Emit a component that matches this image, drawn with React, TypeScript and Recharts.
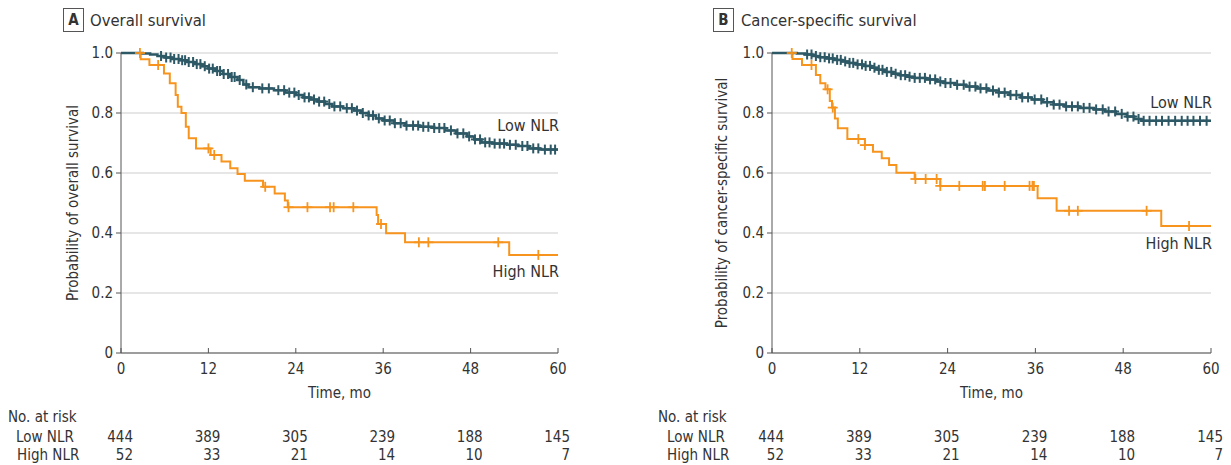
import React from 'react';
import { ComposedChart, Line, Scatter, XAxis, YAxis, CartesianGrid, ReferenceDot } from 'recharts';

// ---------- data ----------
const monthTicks = [0, 12, 24, 36, 48, 60];
const probTicks = [0, 0.2, 0.4, 0.6, 0.8, 1.0];
const lowRisk = [444, 389, 305, 239, 188, 145];
const highRisk = [52, 33, 21, 14, 10, 7];

// Overall survival, Low NLR (time in months, survival probability)
const lowOS: [number, number][] = [
  [0, 1.0], [3.0, 0.998], [4.0, 0.995], [5.0, 0.99], [6.0, 0.985], [7.0, 0.98], [8.0, 0.976],
  [9.0, 0.97], [10.0, 0.963], [11.0, 0.956], [12.0, 0.948], [13.0, 0.94], [14.0, 0.93],
  [15.0, 0.92], [16.0, 0.91], [16.8, 0.895], [17.5, 0.886], [19.0, 0.882], [21.0, 0.876],
  [22.5, 0.868], [24.0, 0.86], [25.0, 0.852], [26.0, 0.845], [27.0, 0.838], [28.0, 0.83],
  [29.0, 0.822], [30.5, 0.816], [32.0, 0.808], [33.0, 0.8], [34.0, 0.792], [35.0, 0.782],
  [36.0, 0.775], [37.5, 0.766], [39.0, 0.758], [41.0, 0.754], [43.0, 0.75], [44.5, 0.742],
  [46.0, 0.732], [47.5, 0.722], [48.5, 0.712], [49.5, 0.702], [51.0, 0.698], [53.0, 0.694],
  [54.5, 0.69], [56.0, 0.682], [57.5, 0.678], [60, 0.678],
];
const highOS: [number, number][] = [
  [0, 1.0], [2.7, 0.979], [3.9, 0.96], [5.9, 0.932], [6.7, 0.899], [7.5, 0.86], [7.8, 0.821],
  [8.3, 0.8], [8.9, 0.754], [9.3, 0.716], [10.3, 0.682], [12.3, 0.66], [13.8, 0.638],
  [15.0, 0.616], [16.0, 0.597], [17.0, 0.574], [19.5, 0.554], [21.1, 0.532], [22.5, 0.508],
  [22.9, 0.486], [35.1, 0.46], [35.3, 0.43], [36.4, 0.399], [39.0, 0.369], [53.3, 0.327],
  [60, 0.327],
];
const lowOSCensor = [
  5.5, 6.2, 6.8, 7.3, 7.9, 8.4, 8.8, 9.3, 9.9, 10.4, 10.9, 11.5, 12.1, 12.6, 13.2, 13.6, 14.1,
  14.7, 15.2, 15.6, 16.3, 17.2, 18.1, 19.4, 20.3, 21.6, 22.4, 23.1, 23.8, 24.4, 25.2, 25.8,
  26.5, 27.2, 27.9, 28.6, 29.3, 30.1, 31.0, 31.7, 32.4, 33.2, 34.0, 34.6, 35.4, 36.2, 36.9,
  37.6, 38.4, 39.2, 40.1, 40.8, 41.5, 42.2, 43.0, 43.7, 44.4, 45.3, 46.2, 47.0, 47.8, 48.6,
  49.3, 50.0, 50.6, 51.3, 52.0, 52.6, 53.4, 54.2, 55.1, 55.8, 56.6, 57.3, 58.2, 59.0, 59.6,
];
const highOSCensor = [2.6, 5.1, 12.0, 12.8, 19.8, 23.0, 25.6, 28.7, 29.2, 31.9, 35.7, 40.9, 42.2, 51.8, 57.3];

// Cancer-specific survival
const lowCSS: [number, number][] = [
  [0, 1.0], [3.4, 0.998], [4.5, 0.995], [5.5, 0.99], [6.5, 0.986], [7.5, 0.982], [8.5, 0.977],
  [9.5, 0.972], [10.5, 0.967], [11.5, 0.962], [12.5, 0.957], [13.5, 0.951], [14.5, 0.944],
  [15.5, 0.937], [16.5, 0.931], [17.5, 0.926], [18.5, 0.921], [19.5, 0.917], [21.0, 0.912],
  [22.5, 0.905], [23.5, 0.9], [25.0, 0.894], [26.5, 0.888], [28.0, 0.882], [29.5, 0.875],
  [31.0, 0.868], [32.5, 0.86], [34.0, 0.852], [35.5, 0.845], [37.0, 0.836], [38.5, 0.828],
  [40.0, 0.822], [42.0, 0.817], [44.0, 0.812], [45.5, 0.805], [47.0, 0.797], [48.5, 0.788],
  [49.5, 0.78], [50.5, 0.774], [60, 0.774],
];
const highCSS: [number, number][] = [
  [0, 1.0], [2.8, 0.98], [4.1, 0.96], [6.0, 0.927], [6.6, 0.899], [7.3, 0.879], [7.9, 0.84],
  [8.2, 0.818], [8.6, 0.782], [9.0, 0.749], [10.3, 0.713], [12.7, 0.693], [13.8, 0.671],
  [15.0, 0.649], [16.0, 0.627], [17.0, 0.601], [19.5, 0.58], [23.0, 0.557], [36.3, 0.516],
  [38.9, 0.474], [53.2, 0.423], [60, 0.423],
];
const lowCSSCensor = [
  4.8, 5.4, 6.0, 6.6, 7.2, 7.8, 8.3, 8.9, 9.4, 10.0, 10.6, 11.1, 11.7, 12.3, 12.8, 13.4, 14.0,
  14.6, 15.1, 15.7, 16.3, 16.9, 17.6, 18.2, 18.8, 19.5, 20.2, 20.9, 21.6, 22.3, 23.0, 23.7,
  24.4, 25.3, 26.2, 27.0, 27.8, 28.5, 29.3, 30.2, 31.0, 31.8, 32.6, 33.4, 34.2, 35.0, 35.9,
  36.8, 37.6, 38.5, 39.3, 40.2, 41.0, 41.8, 42.6, 43.4, 44.3, 45.2, 46.0, 46.9, 47.8, 48.6,
  49.4, 50.1, 50.8, 51.6, 52.5, 53.3, 54.2, 55.1, 56.0, 56.8, 57.6, 58.5, 59.4,
];
const highCSSCensor = [
  2.7, 5.4, 7.6, 8.3, 11.8, 12.7, 19.6, 21.0, 22.5, 23.0, 25.6, 28.8, 29.1, 31.8, 35.2, 35.6,
  35.8, 40.6, 41.8, 51.2, 57.0,
];

// ---------- style ----------
const FONT = "'Liberation Sans Narrow', 'DejaVu Sans Condensed', 'Roboto Condensed', 'Open Sans', sans-serif";
const TEXT = '#333333';
const TEAL = '#2d5865';
const ORANGE = '#f7941e';
const AXIS = '#555555';

const survAt = (steps: [number, number][], t: number) => {
  let s = steps[0][1];
  for (const [tt, ss] of steps) {
    if (tt <= t) s = ss;
    else break;
  }
  return s;
};
const toPoints = (steps: [number, number][]) => steps.map(([t, s]) => ({ t, s }));
const censorPoints = (steps: [number, number][], times: number[]) => times.map((t) => ({ t, s: survAt(steps, t) }));

const makeCross = (color: string, h: number, w: number, sw: number) => (p: any) => (
  <g>
    <line x1={p.cx} x2={p.cx} y1={p.cy - h} y2={p.cy + h} stroke={color} strokeWidth={sw} />
    <line x1={p.cx - w} x2={p.cx + w} y1={p.cy} y2={p.cy} stroke={color} strokeWidth={sw} />
  </g>
);

const XTick = (props: any) => {
  const { x, y, payload, index } = props;
  return (
    <g>
      <line x1={x} x2={x} y1={y - 5} y2={y} stroke={AXIS} strokeWidth={1} />
      <text x={x} y={y + 21} textAnchor="middle" fontSize={15} fill={TEXT} fontFamily={FONT}>
        {payload.value}
      </text>
      <text x={x + 12} y={y + 89} textAnchor="end" fontSize={15} fill={TEXT} fontFamily={FONT}>
        {lowRisk[index]}
      </text>
      <text x={x + 12} y={y + 107} textAnchor="end" fontSize={15} fill={TEXT} fontFamily={FONT}>
        {highRisk[index]}
      </text>
    </g>
  );
};

type PanelProps = {
  left: number;
  width: number;
  marginLeft: number;
  marginRight: number;
  low: [number, number][];
  high: [number, number][];
  lowCensor: number[];
  highCensor: number[];
  lowLabelY: number;
  highLabelY: number;
};

const Panel = (p: PanelProps) => (
  <div style={{ position: 'absolute', left: p.left, top: 0 }}>
    <ComposedChart
      width={p.width}
      height={465}
      margin={{ top: 53, right: p.marginRight, bottom: 72, left: p.marginLeft }}
    >
      <CartesianGrid vertical={false} stroke="#dedede" strokeWidth={1.5} />
      <XAxis
        type="number"
        dataKey="t"
        domain={[0, 60]}
        ticks={monthTicks}
        allowDataOverflow
        height={40}
        stroke={AXIS}
        tickLine={false}
        tickSize={0}
        tickMargin={0}
        tick={<XTick />}
        interval={0}
        label={{
          content: (lp: any) => (
            <text
              x={lp.viewBox.x + lp.viewBox.width / 2}
              y={lp.viewBox.y + 45}
              textAnchor="middle"
              fontSize={15}
              fill={TEXT}
              fontFamily={FONT}
            >
              Time, mo
            </text>
          ),
        }}
      />
      <YAxis
        type="number"
        dataKey="s"
        domain={[0, 1]}
        ticks={probTicks}
        interval={0}
        width={50}
        stroke={AXIS}
        tickSize={5}
        tickMargin={3}
        tick={{ fontSize: 15, fill: TEXT, fontFamily: FONT }}
        tickFormatter={(v: number) => (v === 0 ? '0' : v.toFixed(1))}
      />
      <Line
        data={toPoints(p.high)}
        dataKey="s"
        type="stepAfter"
        stroke={ORANGE}
        strokeWidth={2}
        dot={false}
        isAnimationActive={false}
      />
      <Scatter
        data={censorPoints(p.high, p.highCensor)}
        dataKey="s"
        shape={makeCross(ORANGE, 5, 5, 1.8)}
        isAnimationActive={false}
      />
      <Line
        data={toPoints(p.low)}
        dataKey="s"
        type="stepAfter"
        stroke={TEAL}
        strokeWidth={2.5}
        dot={false}
        isAnimationActive={false}
      />
      <Scatter
        data={censorPoints(p.low, p.lowCensor)}
        dataKey="s"
        shape={makeCross(TEAL, 5, 4, 2)}
        isAnimationActive={false}
      />
      <ReferenceDot
        x={60}
        y={p.lowLabelY}
        r={0}
        shape={(sp: any) => (
          <text x={sp.cx + 1} y={sp.cy} dy="0.35em" textAnchor="end" fontSize={16} fill={TEXT} fontFamily={FONT}>
            Low NLR
          </text>
        )}
      />
      <ReferenceDot
        x={60}
        y={p.highLabelY}
        r={0}
        shape={(sp: any) => (
          <text x={sp.cx + 1} y={sp.cy} dy="0.35em" textAnchor="end" fontSize={16} fill={TEXT} fontFamily={FONT}>
            High NLR
          </text>
        )}
      />
    </ComposedChart>
  </div>
);

const Overlay = () => (
  <svg
    width={1231}
    height={465}
    style={{ position: 'absolute', left: 0, top: 0, pointerEvents: 'none' }}
    fontFamily={FONT}
  >
    {/* Panel A title */}
    <rect x={63.5} y={8.5} width={20} height={23} fill="white" stroke={AXIS} strokeWidth={1} />
    <text x={73.5} y={25} textAnchor="middle" fontSize={15} fontWeight="bold" fill={TEXT}>A</text>
    <text x={90} y={25.5} fontSize={16.5} fill={TEXT}>Overall survival</text>
    {/* Panel B title */}
    <rect x={713.5} y={8.5} width={20} height={23} fill="white" stroke={AXIS} strokeWidth={1} />
    <text x={723.5} y={25} textAnchor="middle" fontSize={15} fontWeight="bold" fill={TEXT}>B</text>
    <text x={741} y={25.5} fontSize={16.5} fill={TEXT}>Cancer-specific survival</text>
    {/* Y labels */}
    <text x={73} y={203} transform="rotate(-90 73 203)" dy="0.35em" textAnchor="middle" fontSize={15} fill={TEXT}>
      Probability of overall survival
    </text>
    <text x={722} y={203} transform="rotate(-90 722 203)" dy="0.35em" textAnchor="middle" fontSize={15} fill={TEXT}>
      Probability of cancer-specific survival
    </text>
    {/* Risk table labels */}
    <text x={8} y={422} fontSize={15} fill={TEXT}>No. at risk</text>
    <text x={16} y={442} fontSize={15} fill={TEXT}>Low NLR</text>
    <text x={17} y={460} fontSize={15} fill={TEXT}>High NLR</text>
    <text x={658} y={422} fontSize={15} fill={TEXT}>No. at risk</text>
    <text x={667} y={442} fontSize={15} fill={TEXT}>Low NLR</text>
    <text x={667} y={460} fontSize={15} fill={TEXT}>High NLR</text>
  </svg>
);

export default function App() {
  return (
    <div style={{ position: 'absolute', left: 0, top: 0, width: 1231, height: 465, background: 'white', fontFamily: FONT }}>
      <Panel
        left={0}
        width={620}
        marginLeft={71}
        marginRight={62}
        low={lowOS}
        high={highOS}
        lowCensor={lowOSCensor}
        highCensor={highOSCensor}
        lowLabelY={0.76}
        highLabelY={0.273}
      />
      <Panel
        left={620}
        width={611}
        marginLeft={102}
        marginRight={20}
        low={lowCSS}
        high={highCSS}
        lowCensor={lowCSSCensor}
        highCensor={highCSSCensor}
        lowLabelY={0.837}
        highLabelY={0.367}
      />
      <Overlay />
    </div>
  );
}
